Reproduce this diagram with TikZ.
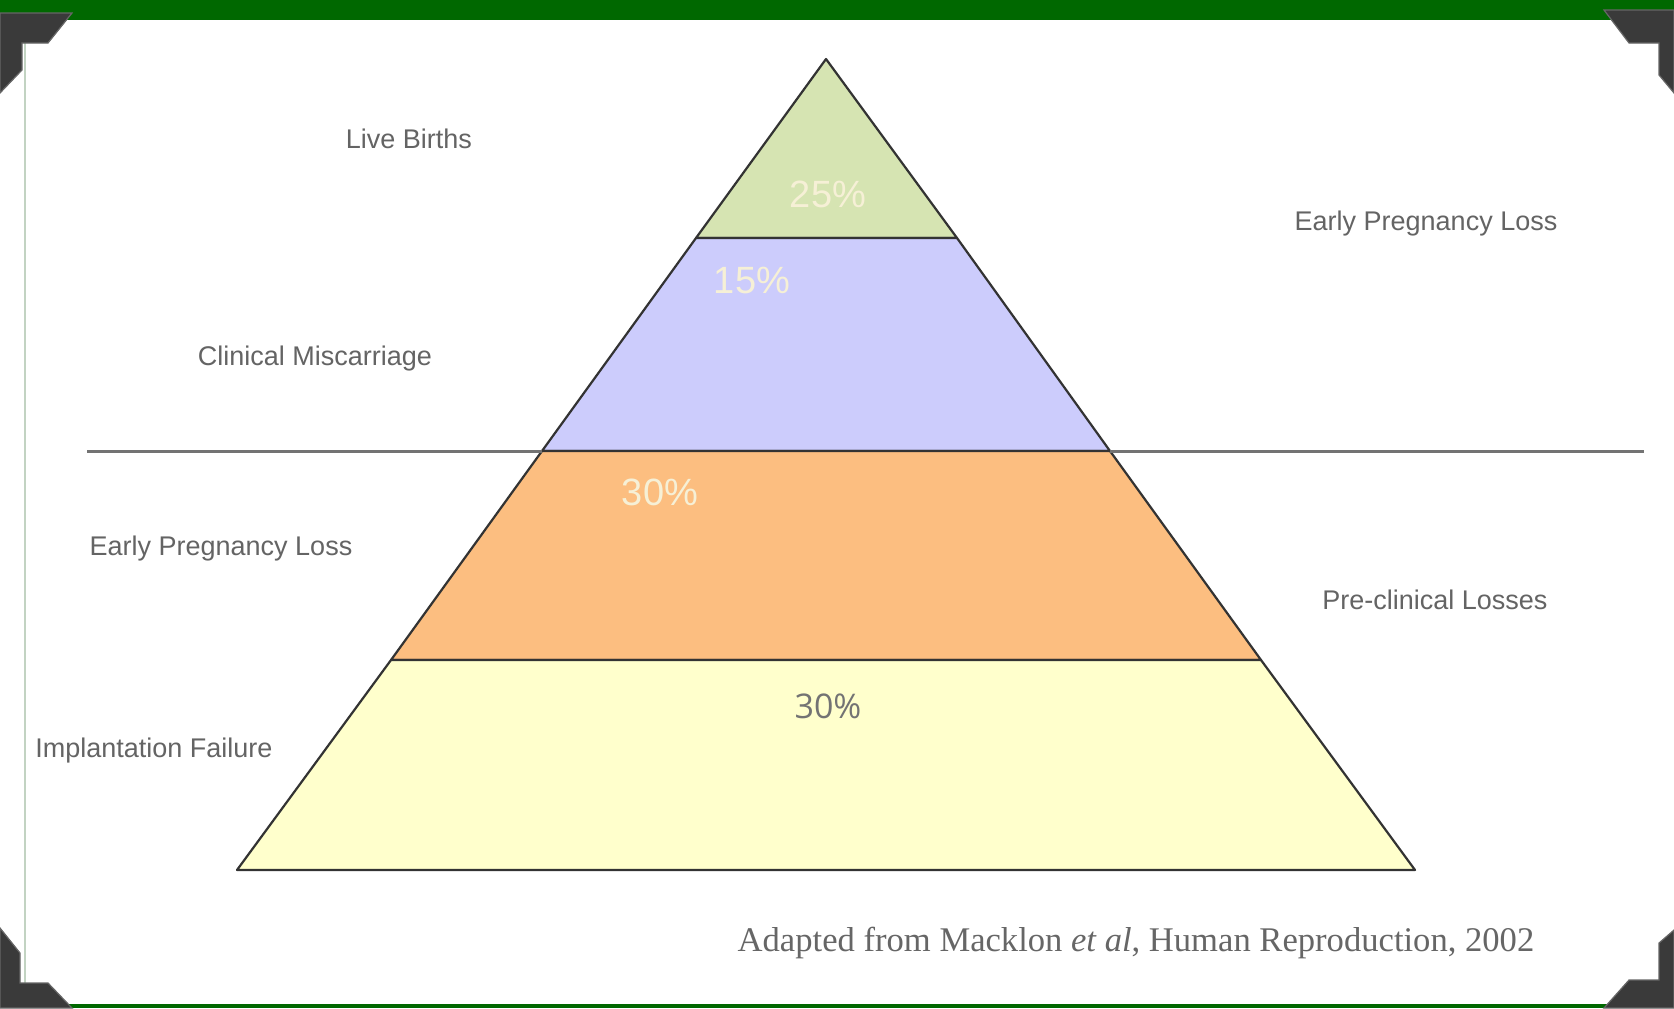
\documentclass[tikz,border=0pt]{standalone}
\usepackage{fontspec}
\setmainfont{Liberation Sans}
\newfontfamily\citefont{Liberation Serif}
\newfontfamily\pctfont{Open Sans}
\usepackage{tikz}
\usetikzlibrary{positioning}

\definecolor{bargreen}{RGB}{0,104,0}
\definecolor{tiergreen}{RGB}{214,228,178}
\definecolor{tierblue}{RGB}{204,204,252}
\definecolor{tierorange}{RGB}{252,190,128}
\definecolor{tieryellow}{RGB}{255,255,204}
\definecolor{labelgray}{RGB}{100,100,100}
\definecolor{pctcream}{RGB}{246,240,214}
\definecolor{cornergray}{RGB}{58,58,58}

\begin{document}
\begin{tikzpicture}[x=0.5pt,y=-0.5pt,
    tier/.style={draw=black!80,line width=1.1pt,line join=round},
    label/.style={text=labelgray,font=\fontsize{13.5}{16}\selectfont,inner sep=0pt,text depth=0pt},
    pct/.style={text=pctcream,font=\fontsize{19}{22}\selectfont,inner sep=0pt},
    corner/.style={fill=cornergray,draw=black!60,line width=0.6pt}]
  \useasboundingbox (0,0) rectangle (1674,1008);
  \fill[white] (0,0) rectangle (1674,1008);
  % frame: green bars and the thin left edge
  \fill[bargreen] (0,0) rectangle (1674,20);
  \fill[bargreen] (0,1004) rectangle (1674,1008);
  \draw[black!15!green!20!gray!40,line width=0.6pt] (25,20) -- (25,1004);
  % corner brackets
  \filldraw[corner] (0,13) -- (72,13) -- (48,43) -- (22,43) -- (22,70) -- (0,93) -- cycle;
  \filldraw[corner] (1674,10) -- (1604,10) -- (1629,43) -- (1659,43) -- (1659,75) -- (1674,93) -- cycle;
  \filldraw[corner] (0,928) -- (20,953) -- (20,983) -- (48,983) -- (72,1008) -- (0,1008) -- cycle;
  \filldraw[corner] (1674,930) -- (1659,943) -- (1659,980) -- (1629,980) -- (1604,1008) -- (1674,1008) -- cycle;

  % the pyramid, tier by tier
  \coordinate (apex) at (826,59);
  \coordinate (l1) at (696,238);  \coordinate (r1) at (957,238);
  \coordinate (l2) at (542,451);  \coordinate (r2) at (1110,451);
  \coordinate (l3) at (391,660);  \coordinate (r3) at (1261,660);
  \coordinate (l4) at (237,870);  \coordinate (r4) at (1415,870);
  \filldraw[tier,fill=tiergreen] (apex) -- (r1) -- (l1) -- cycle;
  \filldraw[tier,fill=tierblue] (l1) -- (r1) -- (r2) -- (l2) -- cycle;
  \filldraw[tier,fill=tierorange] (l2) -- (r2) -- (r3) -- (l3) -- cycle;
  \filldraw[tier,fill=tieryellow] (l3) -- (r3) -- (r4) -- (l4) -- cycle;

  % divider between clinical and pre-clinical
  \coordinate (divl) at (87,451);
  \coordinate (divr) at (1644,451);
  \draw[black!55,line width=1.5pt] (divl) -- (l2);
  \draw[black!55,line width=1.5pt] (r2) -- (divr);

  % percentages
  \node[pct] (live) at (828,194) {25\%};
  \node[pct] (clin) at (752,280) {15\%};
  \node[pct] (early) at (660,492) {30\%};
  \node[text=black!55,font=\pctfont\fontsize{17}{20}\selectfont,inner sep=0pt] (impl) at (828,706) {30\%};

  % labels on the left
  \node[label] (livelbl) at (409,139) {Live Births};
  \node[label] (clinlbl) at (315,356) {Clinical Miscarriage};
  \node[label] (earlylbl) at (221,546) {Early Pregnancy Loss};
  \node[label] (impllbl) at (154,748) {Implantation Failure};
  % labels on the right
  \node[label] (eplbl) at (1426,221) {Early Pregnancy Loss};
  \node[label] (prelbl) at (1435,600) {Pre-clinical Losses};

  \node[text=black!60,font=\citefont\fontsize{17.3}{20}\selectfont,inner sep=0pt] (cite) at (1136,943)
    {Adapted from Macklon \textit{et al}, Human Reproduction, 2002};
\end{tikzpicture}
\end{document}
